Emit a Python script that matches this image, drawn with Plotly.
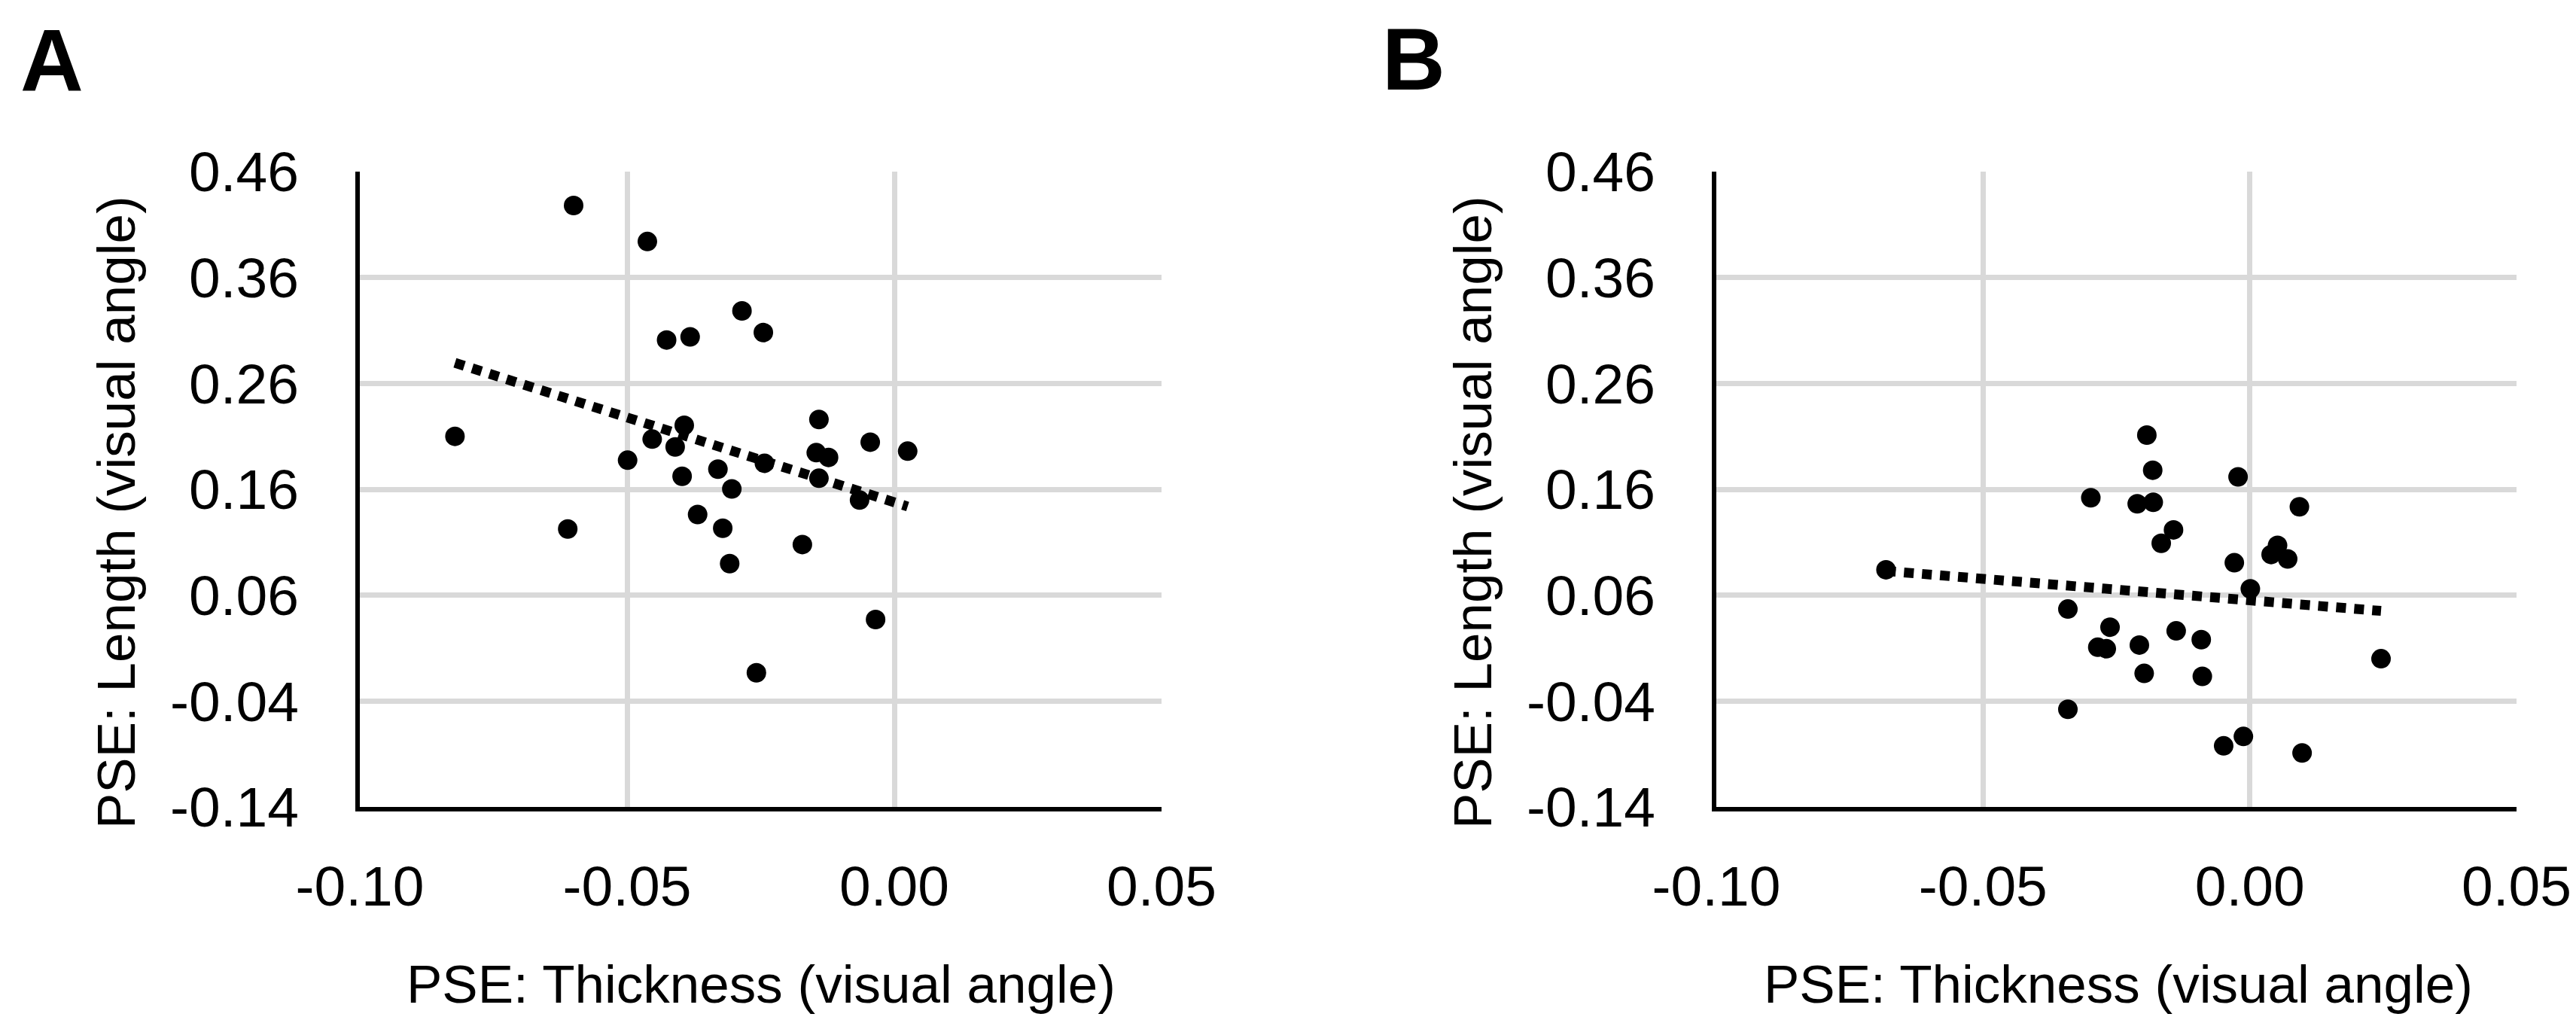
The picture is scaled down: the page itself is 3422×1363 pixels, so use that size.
import numpy as np
import plotly.graph_objects as go

# Panel A: PSE thickness vs PSE length (visual angle)
thick_a = [-0.0822, -0.0600, -0.0611, -0.0462, -0.0499, -0.0453, -0.0426, -0.0382,
           -0.0393, -0.0410, -0.0397, -0.0368, -0.0330, -0.0321, -0.0304, -0.0308,
           -0.0285, -0.0245, -0.0243, -0.0258, -0.0172, -0.0141, -0.0146, -0.0123,
           -0.0141, -0.0065, -0.0045, -0.0035, 0.0025]
length_a = [0.210, 0.428, 0.1225, 0.394, 0.1875, 0.2074, 0.301, 0.304,
            0.2204, 0.200, 0.1723, 0.1362, 0.179, 0.1232, 0.1604, 0.0898,
            0.3285, 0.308, 0.1846, -0.0133, 0.1078, 0.2259, 0.1946, 0.1901,
            0.1704, 0.1498, 0.2045, 0.037, 0.196]

# Panel B
thick_b = [-0.0682, -0.0341, -0.0341, -0.0298, -0.0285, -0.0269, -0.0262, -0.0211,
           -0.0207, -0.0198, -0.0193, -0.0182, -0.0181, -0.0166, -0.0143, -0.0138,
           -0.0091, -0.0089, -0.0049, -0.0029, -0.0022, -0.0012, 0.0001, 0.0040,
           0.0052, 0.0071, 0.0093, 0.0098, 0.0246]
length_b = [0.084, 0.0469, -0.0478, 0.152, 0.0108, 0.0094, 0.0298, 0.1463,
            0.0129, -0.0139, 0.2112, 0.178, 0.1477, 0.109, 0.1217, 0.0263,
            0.018, -0.0167, -0.0823, 0.0906, 0.1717, -0.0734, 0.066, 0.0984,
            0.1071, 0.0942, 0.1435, -0.089, 0.000]

x_ticks = [-0.10, -0.05, 0.00, 0.05]
x_labels = ["-0.10", "-0.05", "0.00", "0.05"]
y_ticks = [0.46, 0.36, 0.26, 0.16, 0.06, -0.04, -0.14]
y_labels = ["0.46", "0.36", "0.26", "0.16", "0.06", "-0.04", "-0.14"]

W, H = 3422, 1363
FONT = "Liberation Sans"


def px_x(p):
    return p / W


def px_y(p):
    return 1 - p / H


fig = go.Figure()

for i, (xs, ys) in enumerate([(thick_a, length_a), (thick_b, length_b)]):
    xa = "x" if i == 0 else "x2"
    ya = "y" if i == 0 else "y2"
    # linear trendline like the Excel one
    slope, icpt = np.polyfit(xs, ys, 1)
    tx = np.array([min(xs), max(xs)])
    fig.add_trace(go.Scatter(x=tx, y=slope * tx + icpt, mode="lines",
                             line=dict(color="black", width=13, dash="13px,11px"),
                             xaxis=xa, yaxis=ya, showlegend=False, hoverinfo="skip"))
    fig.add_trace(go.Scatter(x=xs, y=ys, mode="markers",
                             marker=dict(color="black", size=26, line=dict(width=0)),
                             xaxis=xa, yaxis=ya, showlegend=False))

xstyle = dict(range=[-0.10, 0.05], tickvals=x_ticks, ticktext=x_labels,
              showgrid=True, gridcolor="#D9D9D9", gridwidth=7, zeroline=False,
              showline=True, linecolor="black", linewidth=6, ticks="",
              automargin=False, ticklabelstandoff=35,
              tickfont=dict(family=FONT, size=75, color="black"))
ystyle = dict(range=[-0.14, 0.46], tickvals=y_ticks, ticktext=y_labels,
              showgrid=True, gridcolor="#D9D9D9", gridwidth=7, zeroline=False,
              showline=True, linecolor="black", linewidth=6, ticks="",
              automargin=False, ticklabelstandoff=60,
              tickfont=dict(family=FONT, size=75, color="black"))

ydom = [px_y(1064), px_y(220)]
fig.update_layout(
    width=W, height=H,
    margin=dict(l=0, r=0, t=0, b=0, autoexpand=False),
    paper_bgcolor="white", plot_bgcolor="white",
    xaxis=dict(xstyle, domain=[px_x(470), px_x(1535)], anchor="y"),
    yaxis=dict(ystyle, domain=ydom, anchor="x"),
    xaxis2=dict(xstyle, domain=[px_x(2272), px_x(3335)], anchor="y2"),
    yaxis2=dict(ystyle, domain=ydom, anchor="x2"),
)

title_font = dict(family=FONT, size=71, color="black")
annots = [
    dict(text="A", x=px_x(17), y=px_y(73), xanchor="left", yanchor="middle",
         font=dict(family=FONT, size=116, color="black", weight="bold")),
    dict(text="B", x=px_x(1826), y=px_y(71), xanchor="left", yanchor="middle",
         font=dict(family=FONT, size=116, color="black", weight="bold")),
    dict(text="PSE: Thickness (visual angle)", x=px_x(1003), y=px_y(1299),
         xanchor="center", yanchor="middle", font=title_font),
    dict(text="PSE: Thickness (visual angle)", x=px_x(2806), y=px_y(1299),
         xanchor="center", yanchor="middle", font=title_font),
    dict(text="PSE: Length (visual angle)", x=px_x(146), y=px_y(673), textangle=-90,
         xanchor="center", yanchor="middle", font=title_font),
    dict(text="PSE: Length (visual angle)", x=px_x(1948), y=px_y(673), textangle=-90,
         xanchor="center", yanchor="middle", font=title_font),
]
for a in annots:
    fig.add_annotation(xref="paper", yref="paper", showarrow=False, **a)

fig.write_html("out.html")
